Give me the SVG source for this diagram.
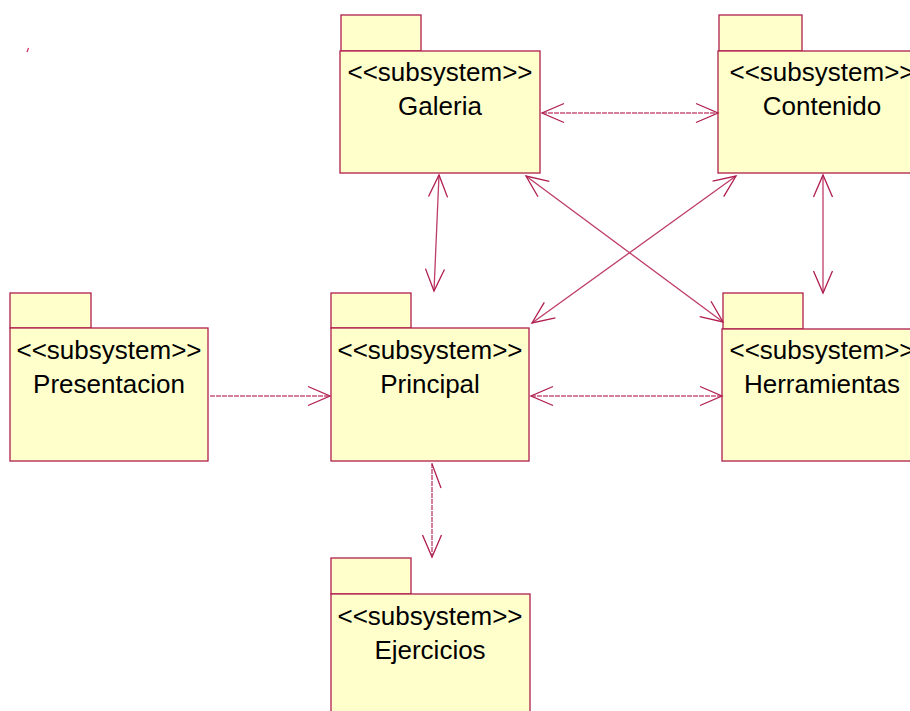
<svg xmlns="http://www.w3.org/2000/svg" width="910" height="711" viewBox="0 0 910 711">
<style>
.pk{fill:#FFFFCC;stroke:#B01E4E;stroke-width:1.3}
.tab{fill:#FFFFCC;stroke:#B01E4E;stroke-width:1.3}
.st{font-family:"Liberation Sans",Arial,sans-serif;font-size:26px;fill:#000;text-anchor:middle}
.ln{fill:none;stroke:#BE3D68;stroke-width:1.3}
.dl{fill:none;stroke:#C9557C;stroke-width:1.5;stroke-dasharray:5 1}
.ah{fill:none;stroke:#B01E4E;stroke-width:1.3}
</style>
<defs>
<marker id="arr" viewBox="-24 -11 26 22" markerWidth="26" markerHeight="22" refX="0" refY="0" orient="auto-start-reverse" markerUnits="userSpaceOnUse">
<path d="M-22,-9.5 L0,0 L-22,9.5" fill="none" stroke="#B01E4E" stroke-width="1.3"/>
</marker>
</defs>
<rect width="910" height="711" fill="#fff"/>
<line x1="27" y1="52" x2="28.5" y2="48" stroke="#D0306A" stroke-width="1.3"/>

<g id="Galeria">
<rect class="tab" x="341" y="15" width="80" height="36"/>
<rect class="pk" x="340" y="51" width="200" height="122"/>
<text class="st" x="440" y="81">&lt;&lt;subsystem&gt;&gt;</text>
<text class="st" x="440" y="115">Galeria</text>
</g>
<g id="Contenido">
<rect class="tab" x="719" y="15" width="83" height="36"/>
<rect class="pk" x="718" y="51" width="210" height="122"/>
<text class="st" x="822" y="81">&lt;&lt;subsystem&gt;&gt;</text>
<text class="st" x="822" y="115">Contenido</text>
</g>
<g id="Presentacion">
<rect class="tab" x="10" y="293" width="81" height="35"/>
<rect class="pk" x="10" y="328" width="198" height="133"/>
<text class="st" x="109" y="359">&lt;&lt;subsystem&gt;&gt;</text>
<text class="st" x="109" y="393">Presentacion</text>
</g>
<g id="Principal">
<rect class="tab" x="331" y="293" width="80" height="35"/>
<rect class="pk" x="331" y="328" width="198" height="133"/>
<text class="st" x="430" y="359">&lt;&lt;subsystem&gt;&gt;</text>
<text class="st" x="430" y="393">Principal</text>
</g>
<g id="Herramientas">
<rect class="tab" x="723" y="293" width="80" height="36"/>
<rect class="pk" x="722" y="329" width="210" height="132"/>
<text class="st" x="822" y="359">&lt;&lt;subsystem&gt;&gt;</text>
<text class="st" x="822" y="393">Herramientas</text>
</g>
<g id="Ejercicios">
<rect class="tab" x="331" y="558" width="80" height="36"/>
<rect class="pk" x="331" y="594" width="199" height="130"/>
<text class="st" x="430" y="625">&lt;&lt;subsystem&gt;&gt;</text>
<text class="st" x="430" y="659">Ejercicios</text>
</g>

<g id="connectors">
<line class="dl" x1="542" y1="113" x2="718" y2="113" marker-start="url(#arr)" marker-end="url(#arr)"/>
<line class="ln" x1="439" y1="175" x2="434" y2="291" marker-start="url(#arr)" marker-end="url(#arr)"/>
<line class="ln" x1="823" y1="175" x2="823" y2="293" marker-start="url(#arr)" marker-end="url(#arr)"/>
<line class="ln" x1="526" y1="176" x2="723" y2="322" marker-start="url(#arr)" marker-end="url(#arr)"/>
<line class="ln" x1="736" y1="176" x2="532" y2="323" marker-start="url(#arr)" marker-end="url(#arr)"/>
<line class="dl" x1="210" y1="396" x2="330" y2="396" marker-end="url(#arr)"/>
<line class="dl" x1="531" y1="396" x2="722" y2="396" marker-start="url(#arr)" marker-end="url(#arr)"/>
<line class="dl" x1="432" y1="463" x2="432" y2="557" marker-end="url(#arr)"/>
<line class="ah" x1="432" y1="464" x2="441" y2="488"/>
</g>
</svg>
